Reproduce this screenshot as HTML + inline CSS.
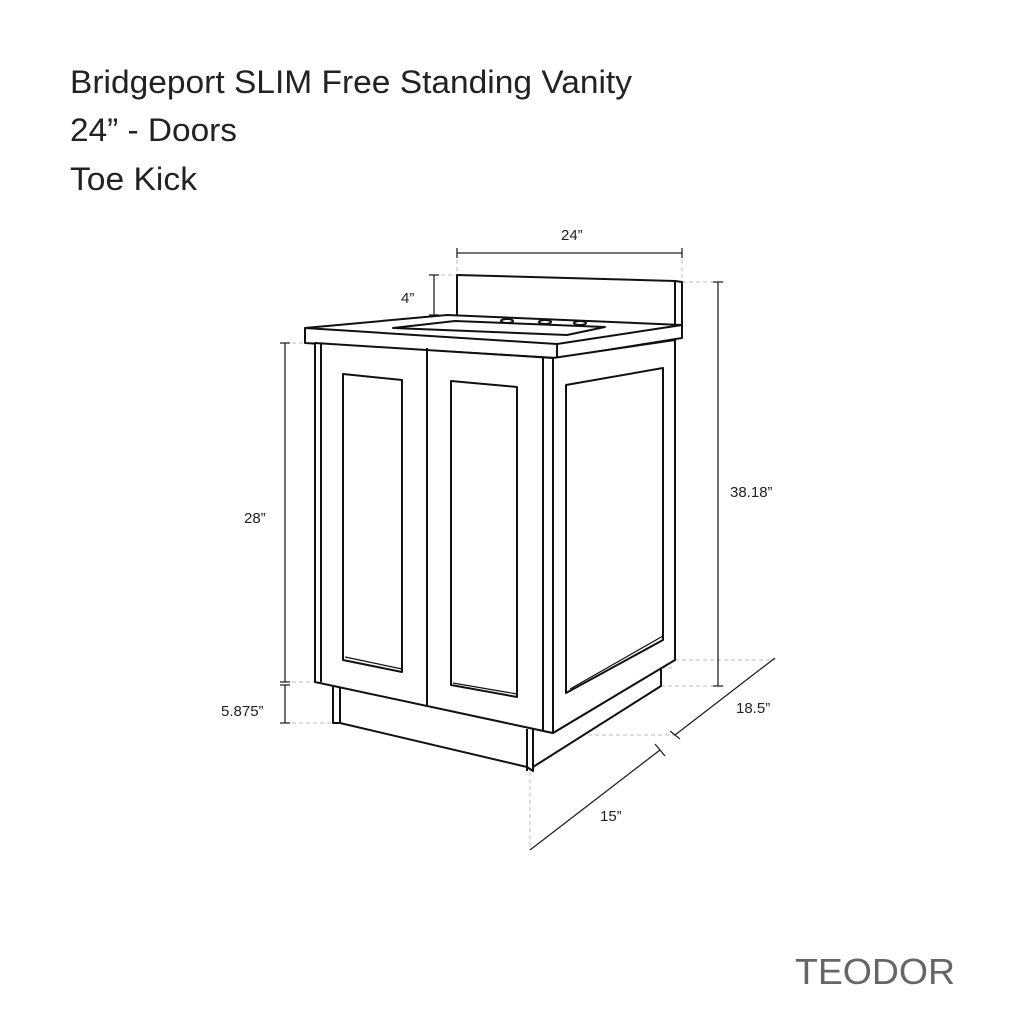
<!DOCTYPE html><html><head><style>body{margin:0;background:#fff}svg{display:block}</style></head><body>
<svg width="1024" height="1024" viewBox="0 0 1024 1024" xmlns="http://www.w3.org/2000/svg" font-family="Liberation Sans, sans-serif">
<g fill="#222" font-size="32"><text x="70" y="93" textLength="562" lengthAdjust="spacingAndGlyphs">Bridgeport SLIM Free Standing Vanity</text><text x="70" y="141" textLength="167" lengthAdjust="spacingAndGlyphs">24” - Doors</text><text x="70" y="190" textLength="127" lengthAdjust="spacingAndGlyphs">Toe Kick</text></g>
<text x="795" y="984" font-size="36" fill="#666" textLength="160" lengthAdjust="spacingAndGlyphs">TEODOR</text>
<g stroke="#bbb" stroke-width="1" stroke-dasharray="4,3" fill="none">
<path d="M457 253V275M682 253V282M434 275H457M682 282H725M285 343H315M285 682H320M285 723H333M661 686H725M675 660H775M661 668H675M553 735H675M530 772V850"/>
</g>
<g stroke="#222" stroke-width="1.3" fill="none">
<path d="M457 253H682M457 248V258M682 248V258"/>
<path d="M434 275V315M429 275H439M429 315H439"/>
<path d="M285 343V682M280 343H290M280 682H290M285 685V723M280 685H290M280 723H290"/>
<path d="M718 282V686M713 282H723M713 686H723"/>
<path d="M675 735L775 658M670 731L680 739"/>
<path d="M530 850L660 750M655 744L665 756"/>
</g>
<g stroke="#111" stroke-width="2" fill="#fff" stroke-linejoin="round">
<polygon points="457,275 675,281 682,282 682,327 457,317"/>
<path d="M675 281V326" fill="none"/>
<polygon points="305,328 447,315 682,325 682,338 557,358 305,343"/>
<path d="M305 328L557 344L682 325M557 344V358" fill="none"/>
<polygon points="393,328 455,321 605,327 567,335" fill="#fff"/>
<ellipse cx="507" cy="321" rx="6" ry="2"/><ellipse cx="545" cy="322" rx="6" ry="2"/><ellipse cx="580" cy="323" rx="6" ry="2"/>
<polygon points="333,684 340,684 340,723 527,767 533,771 533,767 661,686 661,668 553,733 333,685"/>
<path d="M333 684V723L340 723M527 729V771M533 729V771M661 668V686" fill="none"/>
<polygon points="315,343 553,358 553,733 315,682"/>
<path d="M321 343V682M427 348V705M543 358V731" fill="none"/>
<polygon points="553,358 675,340 675,660 553,733"/>
<polygon points="343,374 402,380 402,672 343,660"/>
<polygon points="451,381 517,387 517,697 451,685"/>
<polygon points="566,385 663,368 663,640 566,693"/>
<path d="M345 657L402 669M453 683L517 694M663 636L570 689" fill="none" stroke-width="1.2"/>
</g>
<g fill="#222" font-size="15"><text x="561" y="240">24”</text><text x="401" y="303">4”</text><text x="244" y="523">28”</text><text x="221" y="716">5.875”</text><text x="730" y="497">38.18”</text><text x="736" y="713">18.5”</text><text x="600" y="821">15”</text></g>
</svg></body></html>
